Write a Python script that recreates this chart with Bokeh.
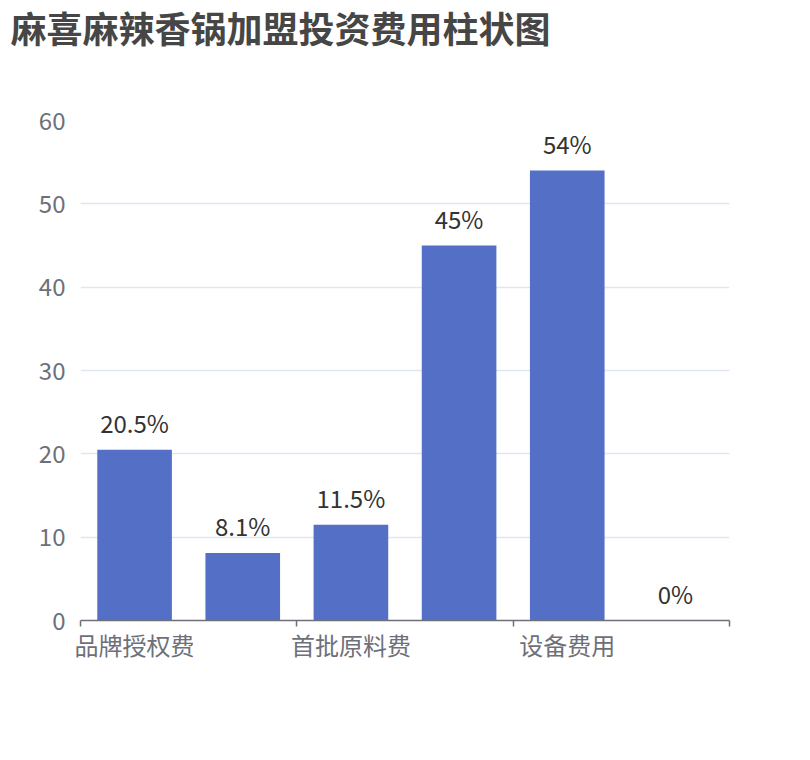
from bokeh.plotting import figure
from bokeh.models import ColumnDataSource, Range1d, FixedTicker, Title
from bokeh.core.properties import value
from bokeh.embed import file_html
from bokeh.resources import INLINE

title_text = "麻喜麻辣香锅加盟投资费用柱状图"
values = [20.5, 8.1, 11.5, 45, 54, 0]
shown_labels = ["品牌授权费", "首批原料费", "设备费用"]
y_ticks = [0, 10, 20, 30, 40, 50, 60]

FONT = "Noto Sans CJK SC"
n = len(values)
xs = [i + 0.5 for i in range(n)]
value_texts = [f"{v:g}%" for v in values]

src = ColumnDataSource(dict(x=xs, top=values, label=value_texts))

p = figure(width=810, height=760, output_backend="svg", toolbar_location=None,
           x_range=Range1d(0, n), y_range=Range1d(0, 60),
           min_border_left=80, min_border_right=81, min_border_top=0, min_border_bottom=140)
p.outline_line_color = None
p.background_fill_color = "white"
p.border_fill_color = "white"
p.title = None

# spacer between frame and title (closest to the frame), then the title itself
p.add_layout(Title(text=" ", text_font_size="2px", standoff=62, text_color="white"), "above")
p.add_layout(Title(text=title_text, text_font=FONT, text_font_size="36px", text_font_style="bold",
                   text_color="#464646", align="left", offset=-70, standoff=0,
                   vertical_align="top"), "above")

p.vbar(x="x", top="top", width=0.69, source=src, fill_color="#5470c6", line_color=None)
p.text(x="x", y="top", text="label", source=src, text_font=value(FONT), text_font_size="24px",
       text_color="#333333", text_align="center", text_baseline="bottom", y_offset=-10)

# x axis
xt = FixedTicker(ticks=[0.5, 2.5, 4.5], minor_ticks=[0, 2, 4, 6])
p.xaxis.ticker = xt
p.xaxis.major_label_overrides = {0.5: shown_labels[0], 2.5: shown_labels[1], 4.5: shown_labels[2]}
p.xaxis.major_tick_line_color = None
p.xaxis.major_tick_out = 0
p.xaxis.major_tick_in = 0
p.xaxis.minor_tick_line_color = "#6E7079"
p.xaxis.minor_tick_out = 6
p.xaxis.minor_tick_in = 0
p.xaxis.axis_line_color = "#6E7079"
p.xaxis.axis_line_width = 1.5
p.xaxis.minor_tick_line_width = 1.5
p.xaxis.major_label_text_font = FONT
p.xaxis.major_label_text_font_size = "24px"
p.xaxis.major_label_text_color = "#6E7079"
p.xaxis.major_label_standoff = 0
p.xgrid.grid_line_color = None

# y axis
p.yaxis.ticker = FixedTicker(ticks=y_ticks)
p.yaxis.axis_line_color = None
p.yaxis.major_tick_line_color = None
p.yaxis.major_tick_out = 0
p.yaxis.major_tick_in = 0
p.yaxis.minor_tick_line_color = None
p.yaxis.major_label_text_font = FONT
p.yaxis.major_label_text_font_size = "24px"
p.yaxis.major_label_text_color = "#6E7079"
p.yaxis.major_label_standoff = 15
p.ygrid.grid_line_color = "#E0E6F1"
p.ygrid.grid_line_width = 1.5
p.ygrid.ticker = FixedTicker(ticks=y_ticks)

open("out.html", "w").write(file_html(p, INLINE))
